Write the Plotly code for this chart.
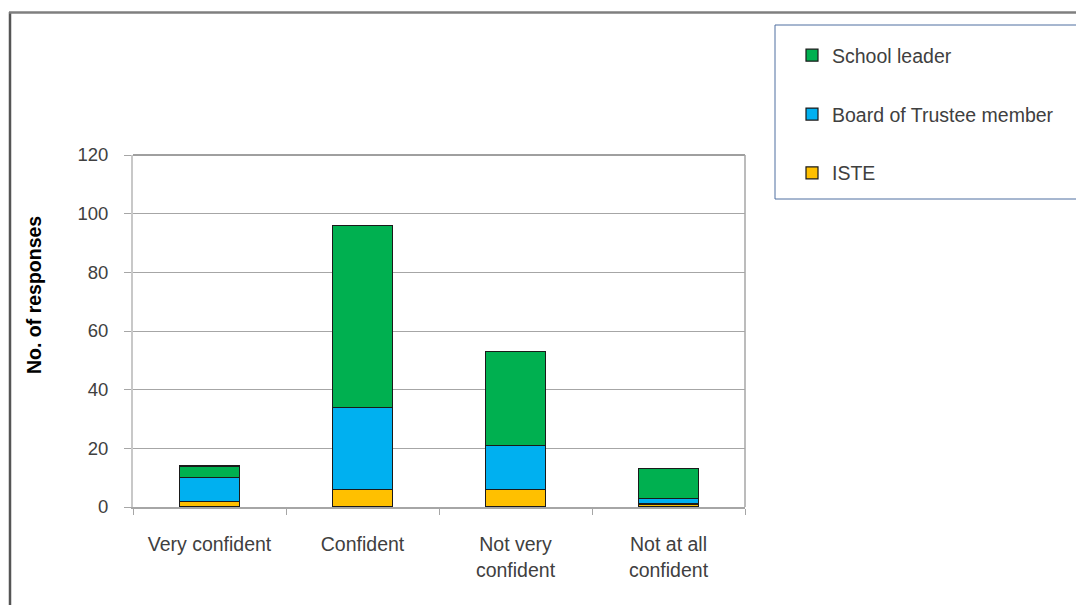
import plotly.graph_objects as go

categories = ["Very confident", "Confident", "Not very<br>confident", "Not at all<br>confident"]
iste = [2, 6, 6, 1]
board_member = [8, 28, 15, 2]
school_leader = [4, 62, 32, 10]

y_ticks = [0, 20, 40, 60, 80, 100, 120]

FONT = "Liberation Sans, Arial, sans-serif"

# plot area in pixels
L, R, T, B = 133, 745, 155, 507
W, H = R - L, B - T

fig = go.Figure()
series = [
    ("ISTE", iste, "#ffc000", "g3", 3),
    ("Board of Trustee member", board_member, "#00b0f0", "g2", 2),
    ("School leader", school_leader, "#00b050", "g1", 1),
]
for name, vals, color, grp, rank in series:
    fig.add_trace(go.Bar(
        x=categories, y=vals, name=name, legendgroup=grp, legendrank=rank,
        marker=dict(color=color, line=dict(color="#1a1a1a", width=1.2)),
        width=0.39,
    ))


def px_x(px):
    return (px - L) / W


def px_y(py):
    return (B - py) / H


fig.update_layout(
    barmode="stack",
    width=1076, height=605,
    margin=dict(l=L, r=1076 - R, t=T, b=605 - B),
    paper_bgcolor="white", plot_bgcolor="white",
    font=dict(family=FONT, size=19, color="#404040"),
    showlegend=True,
    legend=dict(
        x=px_x(792), xanchor="left",
        y=px_y(36), yanchor="top",
        traceorder="grouped", tracegroupgap=30.5,
        font=dict(family=FONT, size=19.5, color="#404040"),
        bgcolor="rgba(0,0,0,0)", borderwidth=0,
        itemwidth=30,
    ),
    xaxis=dict(
        type="category", tickson="boundaries",
        ticks="outside", ticklen=6, tickcolor="#a6a6a6", tickwidth=1,
        showline=True, linecolor="#a6a6a6", linewidth=2,
        showgrid=False, ticklabelstandoff=19,
        tickfont=dict(family=FONT, size=19.5, color="#404040"),
    ),
    yaxis=dict(
        range=[0, 120], tickvals=y_ticks,
        ticks="outside", ticklen=7, tickcolor="#a6a6a6",
        showline=True, linecolor="#c8c8c8", linewidth=2,
        showgrid=True, gridcolor="#a6a6a6", gridwidth=1,
        zeroline=False, ticklabelstandoff=12,
        tickfont=dict(family=FONT, size=18.5, color="#404040"),
    ),
)

fig.add_annotation(
    text="<b>No. of responses</b>", textangle=-90,
    xref="paper", yref="paper", x=px_x(34), y=px_y(295),
    xanchor="center", yanchor="middle", showarrow=False,
    font=dict(family=FONT, size=19.5, color="#000000"),
)

# plot-area border (top and right)
fig.add_shape(type="line", xref="paper", yref="paper", x0=0, x1=1, y0=1, y1=1,
              line=dict(color="#404040", width=1))
fig.add_shape(type="line", xref="paper", yref="paper", x0=1, x1=1, y0=0, y1=1,
              line=dict(color="#a6a6a6", width=1.5))

# outer frame and legend box
fig.add_shape(type="line", xref="paper", yref="paper",
              x0=px_x(10), x1=px_x(10), y0=px_y(12), y1=px_y(610),
              line=dict(color="#555555", width=2.5))
fig.add_shape(type="line", xref="paper", yref="paper",
              x0=px_x(9), x1=px_x(1080), y0=px_y(12.5), y1=px_y(12.5),
              line=dict(color="#7f7f7f", width=2.5))
fig.add_shape(type="rect", xref="paper", yref="paper",
              x0=px_x(775), x1=px_x(1090), y0=px_y(25), y1=px_y(199),
              line=dict(color="#4f6fa0", width=1), fillcolor="rgba(0,0,0,0)")

fig.write_html("out.html")
